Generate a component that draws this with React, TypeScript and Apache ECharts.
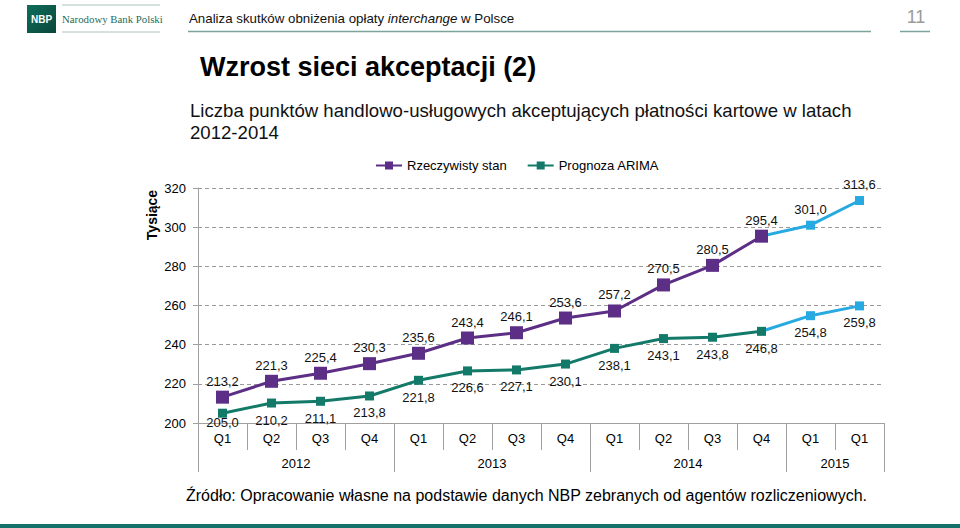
import React, { useEffect, useRef } from "react";
import * as echarts from "echarts";

const categories = ["Q1", "Q2", "Q3", "Q4", "Q1", "Q2", "Q3", "Q4", "Q1", "Q2", "Q3", "Q4", "Q1", "Q1"];
const years = ["2012", "2013", "2014", "2015"];
const quartersPerYear = [4, 4, 4, 2];
const yTicks = [200, 220, 240, 260, 280, 300, 320];

const actual = [213.2, 221.3, 225.4, 230.3, 235.6, 243.4, 246.1, 253.6, 257.2, 270.5, 280.5, 295.4];
const actualForecast = [301.0, 313.6];
const arima = [205.0, 210.2, 211.1, 213.8, 221.8, 226.6, 227.1, 230.1, 238.1, 243.1, 243.8, 246.8];
const arimaForecast = [254.8, 259.8];

const PURPLE = "#5C2E85";
const TEAL = "#137A69";
const LIGHTBLUE = "#27AAE1";
const FONT = "Liberation Sans, Arial, sans-serif";

const fmt = (p: any) => {
  const v = typeof p.value === "number" ? p.value : Number(p.value);
  return v.toFixed(1).replace(".", ",");
};

function buildMain(values: number[], total: number) {
  const out: any[] = values.slice();
  while (out.length < total) out.push(null);
  return out;
}

function buildExt(values: number[], ext: number[]) {
  const out: any[] = [];
  for (let i = 0; i < values.length - 1; i++) out.push(null);
  out.push({ value: values[values.length - 1], symbolSize: 0, label: { show: false } });
  ext.forEach((v) => out.push(v));
  return out;
}

export default function App() {
  const ref = useRef<HTMLDivElement>(null);

  useEffect(() => {
    if (!ref.current) return;
    const chart = echarts.init(ref.current, undefined, { renderer: "svg" });

    const n = categories.length;
    const boundaries: number[] = [0];
    const centers: number[] = [];
    let acc = 0;
    quartersPerYear.forEach((q) => {
      centers.push(acc + q / 2);
      acc += q;
      boundaries.push(acc);
    });

    const arimaData = buildMain(arima, n);
    // first label sits tight above the category axis, as in the reference
    arimaData[0] = { value: arima[0], label: { distance: -2 } };

    const labelStyle = { fontSize: 13, color: "#111", fontFamily: FONT, formatter: fmt };

    const option: any = {
      animation: false,
      backgroundColor: "#ffffff",
      textStyle: { fontFamily: FONT },
      grid: { left: 198, right: 76, top: 188, bottom: 105, containLabel: false },
      legend: {
        left: 370,
        top: 154,
        itemWidth: 26,
        itemHeight: 10,
        itemGap: 20,
        data: ["Rzeczywisty stan", "Prognoza ARIMA"],
        textStyle: { fontSize: 13, color: "#000", fontFamily: FONT },
      },
      xAxis: [
        {
          type: "category",
          data: categories,
          boundaryGap: true,
          axisLine: { show: true, lineStyle: { color: "#a0a0a0", width: 1 } },
          axisTick: { show: true, length: 27, lineStyle: { color: "#a0a0a0" } },
          axisLabel: { interval: 0, margin: 9, fontSize: 13, color: "#000", fontFamily: FONT },
          splitLine: { show: false },
        },
        {
          type: "value",
          position: "bottom",
          min: 0,
          max: n,
          axisLine: { show: false },
          splitLine: { show: false },
          axisTick: {
            show: true,
            length: 49,
            customValues: boundaries,
            lineStyle: { color: "#a0a0a0" },
          },
          axisLabel: {
            show: true,
            margin: 34,
            fontSize: 13,
            color: "#000",
            fontFamily: FONT,
            customValues: centers,
            formatter: (v: number) => {
              const idx = centers.indexOf(v);
              return idx >= 0 ? years[idx] : "";
            },
          },
        },
      ],
      yAxis: {
        type: "value",
        min: yTicks[0],
        max: yTicks[yTicks.length - 1],
        interval: 20,
        axisLine: { show: true, lineStyle: { color: "#a0a0a0" } },
        axisTick: { show: true, length: 5, lineStyle: { color: "#a0a0a0" } },
        axisLabel: { fontSize: 13, color: "#000", margin: 12, fontFamily: FONT },
        splitLine: { show: true, lineStyle: { color: "#9a9a9a", type: [4, 3], width: 1 } },
      },
      series: [
        {
          name: "Rzeczywisty stan – prognoza",
          type: "line",
          xAxisIndex: 0,
          data: buildExt(actual, actualForecast),
          symbol: "rect",
          symbolSize: 9,
          itemStyle: { color: LIGHTBLUE },
          lineStyle: { color: LIGHTBLUE, width: 3 },
          z: 2,
          label: { show: true, position: "top", distance: 5, ...labelStyle },
        },
        {
          name: "Prognoza ARIMA – prognoza",
          type: "line",
          xAxisIndex: 0,
          data: buildExt(arima, arimaForecast),
          symbol: "rect",
          symbolSize: 9,
          itemStyle: { color: LIGHTBLUE },
          lineStyle: { color: LIGHTBLUE, width: 3 },
          z: 2,
          label: { show: true, position: "bottom", distance: 6, ...labelStyle },
        },
        {
          name: "Rzeczywisty stan",
          type: "line",
          xAxisIndex: 0,
          data: buildMain(actual, n),
          symbol: "rect",
          symbolSize: 13,
          itemStyle: { color: PURPLE },
          lineStyle: { color: PURPLE, width: 3 },
          z: 3,
          label: { show: true, position: "top", distance: 3, ...labelStyle },
        },
        {
          name: "Prognoza ARIMA",
          type: "line",
          xAxisIndex: 0,
          data: arimaData,
          symbol: "rect",
          symbolSize: 9,
          itemStyle: { color: TEAL },
          lineStyle: { color: TEAL, width: 3 },
          z: 3,
          label: { show: true, position: "bottom", distance: 6, ...labelStyle },
        },
      ],
      graphic: [
        {
          type: "rect",
          shape: { x: 27, y: 5, width: 29, height: 28 },
          style: {
            fill: new echarts.graphic.LinearGradient(0, 0, 1, 1, [
              { offset: 0, color: "#0f6e5a" },
              { offset: 1, color: "#0a463b" },
            ]),
          },
        },
        {
          type: "text",
          x: 41.5,
          y: 19,
          style: { text: "NBP", fill: "#fff", fontSize: 10, fontWeight: "bold", fontFamily: FONT, textAlign: "center", textVerticalAlign: "middle" },
        },
        { type: "line", shape: { x1: 62, y1: 5, x2: 160, y2: 5 }, style: { stroke: "#a9c2bc", lineWidth: 1 } },
        { type: "line", shape: { x1: 62, y1: 32, x2: 160, y2: 32 }, style: { stroke: "#a9c2bc", lineWidth: 1 } },
        {
          type: "text",
          x: 62,
          y: 19,
          style: { text: "Narodowy Bank Polski", fill: "#1d6b5b", fontSize: 10.8, fontFamily: "Liberation Serif, DejaVu Serif, serif", textVerticalAlign: "middle" },
        },
        {
          type: "text",
          x: 189,
          y: 18,
          style: {
            text: "{a|Analiza skutków obniżenia opłaty }{i|interchange}{a| w Polsce}",
            textVerticalAlign: "middle",
            rich: {
              a: { fontSize: 13.3, fill: "#111", fontFamily: FONT },
              i: { fontSize: 13.3, fill: "#111", fontFamily: FONT, fontStyle: "italic" },
            },
          },
        },
        { type: "line", shape: { x1: 188, y1: 31.5, x2: 871, y2: 31.5 }, style: { stroke: "#7aa49c", lineWidth: 1.5 } },
        {
          type: "text",
          x: 916,
          y: 17,
          style: { text: "11", fill: "#9a9a9a", fontSize: 18, fontFamily: FONT, textAlign: "center", textVerticalAlign: "middle" },
        },
        { type: "line", shape: { x1: 900, y1: 31.5, x2: 930, y2: 31.5 }, style: { stroke: "#7aa49c", lineWidth: 1.5 } },
        {
          type: "text",
          x: 200,
          y: 67,
          style: { text: "Wzrost sieci akceptacji (2)", fill: "#000", fontSize: 27, fontWeight: "bold", fontFamily: FONT, textVerticalAlign: "middle" },
        },
        {
          type: "text",
          x: 190,
          y: 110,
          style: { text: "Liczba punktów handlowo-usługowych akceptujących płatności kartowe w latach", fill: "#111", fontSize: 18.6, fontFamily: FONT, textVerticalAlign: "middle" },
        },
        {
          type: "text",
          x: 190,
          y: 132,
          style: { text: "2012-2014", fill: "#111", fontSize: 18.6, fontFamily: FONT, textVerticalAlign: "middle" },
        },
        {
          type: "text",
          x: 152,
          y: 215,
          rotation: Math.PI / 2,
          style: { text: "Tysiące", fill: "#000", fontSize: 14, fontWeight: "bold", fontFamily: FONT, textAlign: "center", textVerticalAlign: "middle" },
        },
        {
          type: "text",
          x: 186,
          y: 495,
          style: { text: "Źródło: Opracowanie własne na podstawie danych NBP zebranych od agentów rozliczeniowych.", fill: "#000", fontSize: 16, fontFamily: FONT, textVerticalAlign: "middle" },
        },
        { type: "rect", shape: { x: 0, y: 524, width: 960, height: 4 }, style: { fill: "#13736a" } },
      ],
    };

    chart.setOption(option);
    return () => chart.dispose();
  }, []);

  return (
    <div
      ref={ref}
      style={{ position: "absolute", left: 0, top: 0, width: 960, height: 528, background: "#fff" }}
    />
  );
}
